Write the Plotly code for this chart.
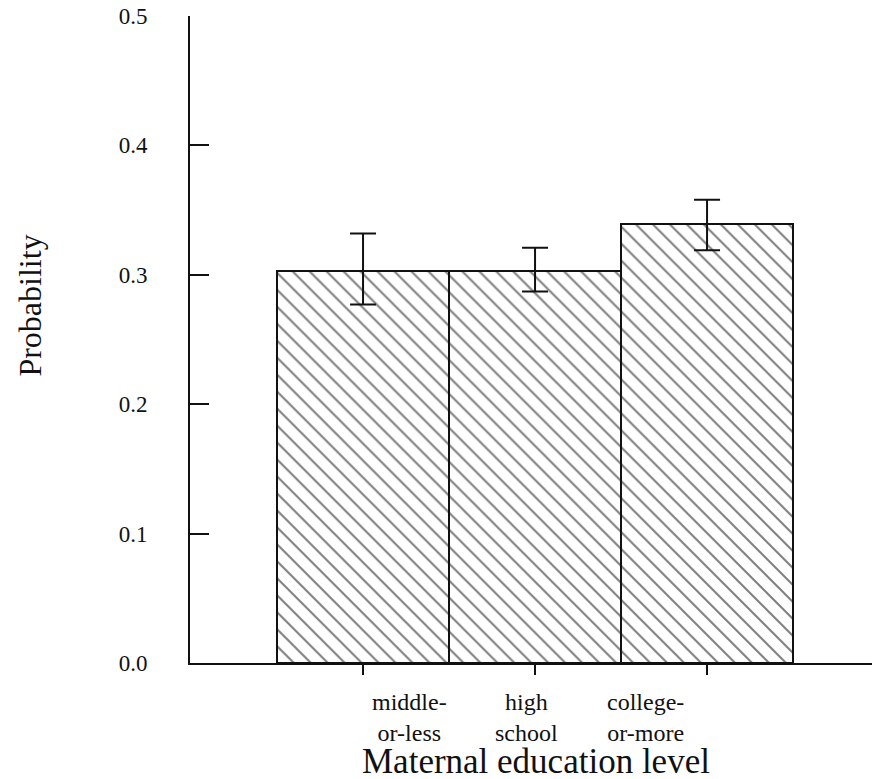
import plotly.graph_objects as go

categories = ["middle-<br>or-less", "high<br>school", "college-<br>or-more"]
probability = [0.303, 0.303, 0.339]
ci_upper = [0.332, 0.321, 0.358]
ci_lower = [0.277, 0.287, 0.319]
y_ticks = [0.0, 0.1, 0.2, 0.3, 0.4, 0.5]
y_tick_text = ["0.0", "0.1", "0.2", "0.3", "0.4", "0.5"]
label_offsets = [0.273, -0.047, -0.36]  # label shift from each bar centre (x units)

x_pos = list(range(len(categories)))
err_plus = [u - p for u, p in zip(ci_upper, probability)]
err_minus = [p - l for l, p in zip(ci_lower, probability)]

FONT = "Liberation Serif"
INK = "#111111"

fig = go.Figure()
fig.add_trace(go.Bar(
    x=x_pos, y=probability, width=1.0,
    marker=dict(
        color="white",
        line=dict(color=INK, width=2),
        pattern=dict(shape="\\", fgcolor="#000000", bgcolor="white",
                     size=12, solidity=0.17, fillmode="overlay"),
    ),
    error_y=dict(type="data", symmetric=False, array=err_plus,
                 arrayminus=err_minus, color=INK, thickness=2, width=13),
    showlegend=False, hoverinfo="skip",
))

for xi, cat, off in zip(x_pos, categories, label_offsets):
    fig.add_annotation(x=xi + off, xref="x", y=-0.085, yref="paper",
                       text=cat, showarrow=False, xanchor="center",
                       yanchor="middle", align="center",
                       font=dict(family=FONT, size=24, color=INK))

fig.add_annotation(x=0.507, xref="paper", y=-0.152, yref="paper",
                   text="Maternal education level", showarrow=False,
                   xanchor="center", yanchor="middle",
                   font=dict(family=FONT, size=35, color=INK))
fig.add_annotation(x=-0.235, xref="paper", y=0.552, yref="paper",
                   text="Probability", showarrow=False, textangle=-90,
                   xanchor="center", yanchor="middle",
                   font=dict(family=FONT, size=32, color=INK))

fig.update_layout(
    width=872, height=779,
    margin=dict(l=190, r=0, t=16, b=116),
    paper_bgcolor="white", plot_bgcolor="white",
    bargap=0,
    font=dict(family=FONT, size=23, color=INK),
    xaxis=dict(range=[-1.006, 2.959], showgrid=False, zeroline=False,
               showline=True, linecolor=INK, linewidth=2,
               tickmode="array", tickvals=x_pos, showticklabels=False,
               ticks="outside", ticklen=10, tickwidth=2, tickcolor=INK),
    yaxis=dict(range=[0, 0.5], showgrid=False, zeroline=False,
               showline=True, linecolor=INK, linewidth=2,
               tickmode="array", tickvals=y_ticks, ticktext=y_tick_text,
               ticks="inside", ticklen=19, tickwidth=2, tickcolor=INK,
               ticklabelstandoff=36,
               tickfont=dict(family=FONT, size=23, color=INK)),
)

fig.write_html(
    "out.html",
    config={"displayModeBar": False},
    post_script="document.body.style.margin='0px';document.body.style.overflow='hidden';",
)
